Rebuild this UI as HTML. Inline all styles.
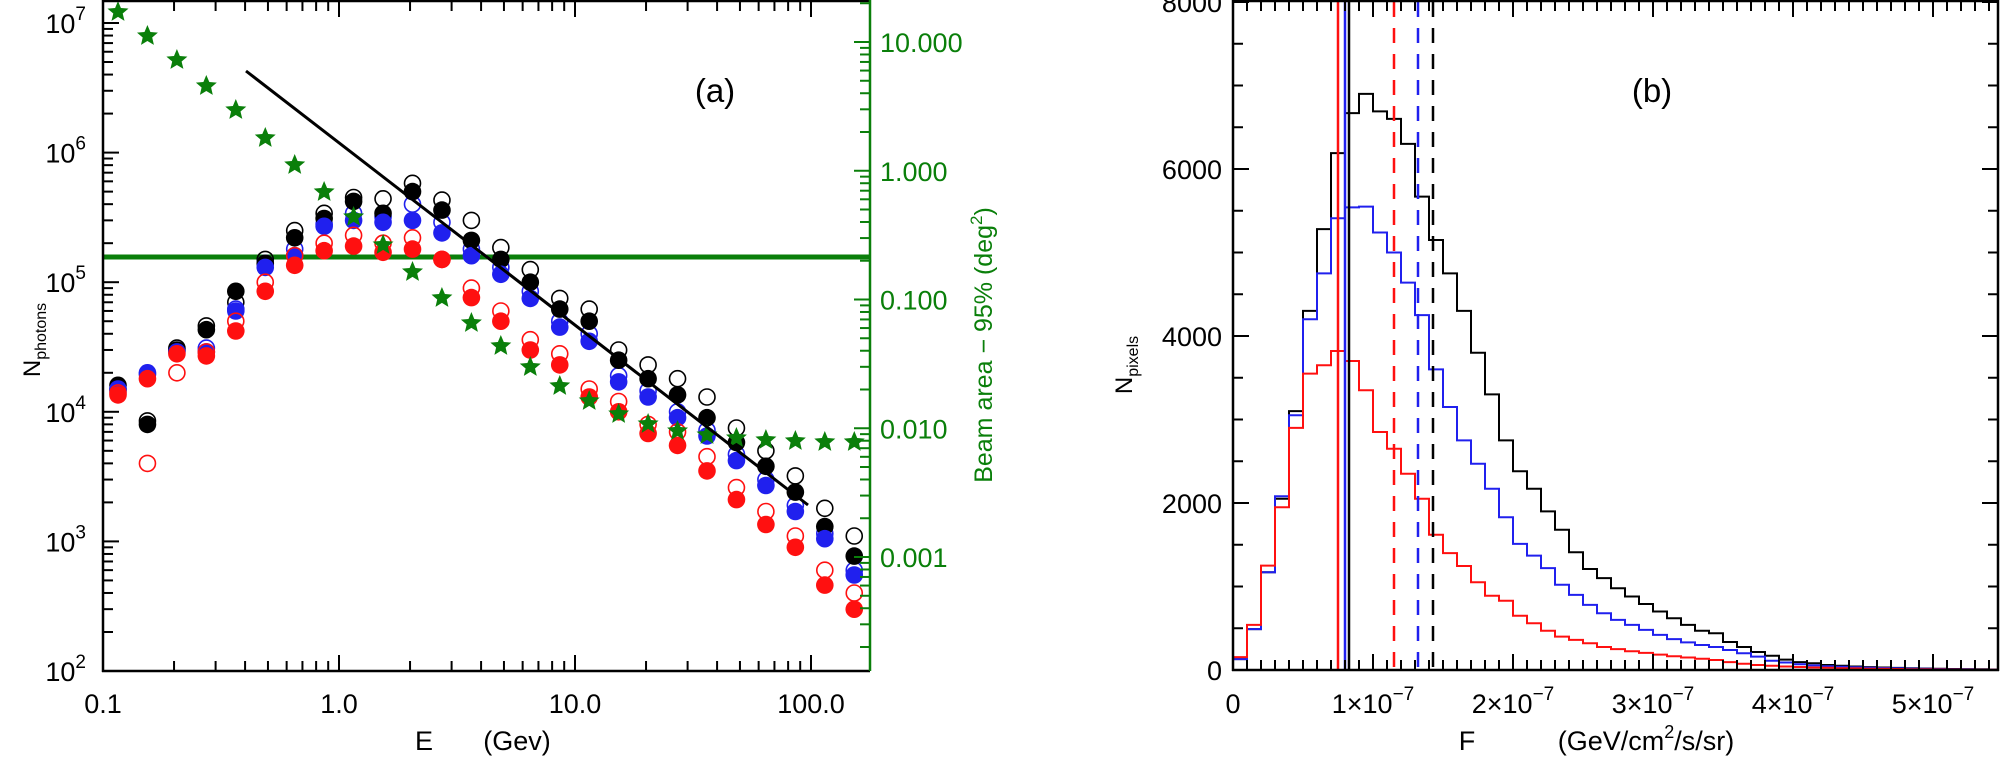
<!DOCTYPE html>
<html><head><meta charset="utf-8"><style>
body{margin:0;background:#fff;}
svg{display:block;font-family:"Liberation Sans",sans-serif;}
</style></head><body>
<svg id="s" width="2001" height="757" viewBox="0 0 2001 757" xmlns="http://www.w3.org/2000/svg"></svg>
<script>
const S=document.getElementById('s');let h='';
const G='#0a7f0a';
function L(x1,y1,x2,y2,c,w,extra){h+=`<line x1="${x1}" y1="${y1}" x2="${x2}" y2="${y2}" stroke="${c}" stroke-width="${w}" ${extra||''}/>`;}
function T(x,y,t,sz,anchor,col,extra){h+=`<text x="${x}" y="${y}" font-size="${sz}" text-anchor="${anchor||'middle'}" fill="${col||'#000'}" ${extra||''}>${t}</text>`;}
const X0=103,X1=870,Y0=0,Y1=671;
const xE=e=>103+236*(Math.log10(e)+1);
const yN=n=>23+129.6*(7-Math.log10(n));
const yA=a=>42+128.75*(1-Math.log10(a));
L(X0,257,X1,257,G,5);
function star(cx,cy,r){let p=[];for(let k=0;k<10;k++){const rr=k%2?r*0.45:r;const a=-Math.PI/2+k*Math.PI/5;p.push((cx+rr*Math.cos(a)).toFixed(1)+','+(cy+rr*Math.sin(a)).toFixed(1));}h+=`<polygon points="${p.join(' ')}" fill="${G}"/>`;}
const sy=[12,36,60,86,110,138,165,192,217,245,272,298,323,346,367,386,401,414,424,431,435,438,440,441,442,442];
const px=i=>118+29.45*i;
const D=[
[1.5e4,1.6e4,1.45e4,1.5e4,1.4e4,1.35e4],
[8.5e3,8e3,1.95e4,2e4,4e3,1.8e4],
[3.1e4,3e4,2.95e4,2.9e4,2e4,2.8e4],
[4.6e4,4.3e4,3.1e4,2.9e4,2.9e4,2.7e4],
[7e4,8.5e4,6.2e4,6e4,5e4,4.2e4],
[1.5e5,1.4e5,1.4e5,1.3e5,1.0e5,8.5e4],
[2.5e5,2.2e5,1.8e5,1.6e5,1.6e5,1.35e5],
[3.4e5,3.1e5,2.8e5,2.7e5,2.0e5,1.75e5],
[4.5e5,4.2e5,3.4e5,3.0e5,2.3e5,1.9e5],
[4.4e5,3.4e5,3.2e5,2.9e5,2.0e5,1.7e5],
[5.8e5,5e5,4e5,3.0e5,2.2e5,1.8e5],
[4.3e5,3.6e5,2.9e5,2.4e5,1.5e5,1.5e5],
[3e5,2.1e5,1.8e5,1.6e5,9e4,7.6e4],
[1.85e5,1.5e5,1.3e5,1.15e5,6e4,5e4],
[1.25e5,1.0e5,8.5e4,7.5e4,3.6e4,3.0e4],
[7.5e4,6.2e4,5e4,4.5e4,2.8e4,2.3e4],
[6.2e4,5e4,4e4,3.5e4,1.5e4,1.3e4],
[3e4,2.5e4,1.9e4,1.7e4,1.2e4,1.0e4],
[2.3e4,1.8e4,1.45e4,1.3e4,8e3,6.8e3],
[1.8e4,1.35e4,1.0e4,9e3,7e3,5.5e3],
[1.3e4,9e3,7.2e3,6.5e3,4.5e3,3.5e3],
[7.5e3,5.8e3,4.7e3,4.2e3,2.6e3,2.1e3],
[5e3,3.8e3,3e3,2.7e3,1.7e3,1.35e3],
[3.2e3,2.4e3,1.9e3,1.7e3,1.1e3,900],
[1.8e3,1.3e3,1.15e3,1.05e3,600,460],
[1.1e3,770,600,550,400,300]];
const cols=['#000','#000','#2020ee','#2020ee','#ff1010','#ff1010'];
D.forEach((d,i)=>{const x=px(i);
 [0,2,1,3,4,5].forEach(k=>{const y=yN(d[k]);if(k%2==0)h+=`<circle cx="${x}" cy="${y.toFixed(1)}" r="8" fill="none" stroke="${cols[k]}" stroke-width="1.6"/>`;else h+=`<circle cx="${x}" cy="${y.toFixed(1)}" r="8.8" fill="${cols[k]}"/>`;});
});
sy.forEach((y,i)=>star(px(i),y,11));
L(246,71,808,505,'#000',3);
L(X0,0,X0,Y1+1,'#000',2.5);L(X0-1,Y1,X1,Y1,'#000',2.5);L(X0,1,X1,1,'#000',2.5);
L(X1,0,X1,Y1,G,2.5);
for(let d=-1;d<=2;d++){for(let m=1;m<=9;m++){const e=m*Math.pow(10,d);const x=xE(e);if(x>X1)break;const len=m==1?16:10;L(x,Y1,x,Y1-len,'#000',2);L(x,1,x,1+len,'#000',2);}}
[['0.1',0.1],['1.0',1],['10.0',10],['100.0',100]].forEach(a=>T(xE(a[1]),713,a[0],27));
T(424,750,'E',27);T(517,750,'(Gev)',27);
for(let d=2;d<=7;d++){for(let m=1;m<=9;m++){const n=m*Math.pow(10,d);const y=yN(n);if(y<0)break;const len=m==1?16:10;L(X0,y,X0+len,y,'#000',2);}}
for(let d=2;d<=7;d++){const y=yN(Math.pow(10,d));T(86,y+10,'10<tspan font-size="19" dy="-13">'+d+'</tspan>',27,'end');}
h+=`<text transform="translate(40,340) rotate(-90)" font-size="24" text-anchor="middle">N<tspan font-size="16" dy="6">photons</tspan></text>`;
for(let d=-4;d<=1;d++){for(let m=1;m<=9;m++){const a=m*Math.pow(10,d);const y=yA(a);if(y<0||y>Y1)continue;const len=m==1?16:10;L(X1,y,X1-len,y,G,2);}}
[['10.000',10],['1.000',1],['0.100',0.1],['0.010',0.01],['0.001',0.001]].forEach(a=>T(880,yA(a[1])+10,a[0],27,'start',G));
h+=`<text transform="translate(992,345) rotate(-90)" font-size="25" text-anchor="middle" fill="${G}">Beam area  −  95%   (deg<tspan font-size="17" dy="-10">2</tspan><tspan dy="10">)</tspan></text>`;
T(715,102,'(a)',33);
const BX0=1233,BX1=1998,BY1=670;
const yc=c=>BY1-c*0.0835;
const blk=[130,490,1170,2050,3100,4300,5280,6190,6670,6900,6690,6600,6300,5670,5150,4750,4300,3800,3300,2750,2380,2170,1900,1680,1410,1210,1100,980,880,790,700,620,540,470,440,335,275,215,170,125,95,80,60,50,42,35,30,25,20,18,15,12,10,8,6];
const blu=[130,490,1170,2080,3050,4200,4750,5410,5540,5550,5240,5000,4640,4250,3600,3150,2750,2470,2170,1830,1510,1370,1220,1020,900,780,680,600,540,480,420,370,330,300,275,240,200,160,110,90,70,55,45,38,32,28,24,20,17,14,12,10,8,6,5];
const red=[155,540,1250,1950,2900,3550,3650,3820,3700,3350,2850,2650,2350,2050,1620,1400,1245,1050,890,830,650,560,470,400,360,320,275,250,225,205,185,165,150,135,120,95,75,60,50,42,36,30,26,22,19,16,14,12,10,8,7,6,5,4,3];
function hist(a,c){let p=`M${BX0},${BY1}`;a.forEach((v,i)=>{const x0=BX0+14*i,x1=Math.min(BX1,x0+14);const y=yc(v).toFixed(1);p+=` L${x0},${y} L${x1},${y}`;});h+=`<path d="${p}" fill="none" stroke="${c}" stroke-width="2"/>`;}
hist(blk,'#000');hist(blu,'#2020ee');hist(red,'#ff1010');
L(1349,0,1349,BY1,'#000',2.5);L(1345,0,1345,BY1,'#2020ee',2.5);L(1338,0,1338,BY1,'#ff1010',2.5);
L(1433,2,1433,BY1,'#000',2.5,'stroke-dasharray="15,11"');L(1418,2,1418,BY1,'#2020ee',2.5,'stroke-dasharray="15,11"');L(1394,2,1394,BY1,'#ff1010',2.5,'stroke-dasharray="15,11"');
L(BX0,0,BX0,BY1+1,'#000',2.5);L(BX1,0,BX1,BY1+1,'#000',2.5);L(BX0-1,BY1,BX1+1,BY1,'#000',2.5);L(BX0,1,BX1,1,'#000',2.5);
for(let k=0;k<=55;k++){const x=BX0+14*k;if(x>BX1)break;const len=k%10==0?16:10;L(x,BY1,x,BY1-len,'#000',2);L(x,1,x,1+len,'#000',2);}
for(let c=0;c<=8000;c+=500){const y=yc(c);const len=c%2000==0?16:10;L(BX0,y,BX0+len,y,'#000',2);L(BX1,y,BX1-len,y,'#000',2);}
for(let c=0;c<=8000;c+=2000)T(1222,yc(c)+10,String(c),27,'end');
T(1233,713,'0',27);
for(let k=1;k<=5;k++)T(BX0+140*k,713,k+'×10<tspan font-size="19" dy="-13">−7</tspan>',27);
T(1467,750,'F',27);
T(1646,750,'(GeV/cm<tspan font-size="18" dy="-12">2</tspan><tspan dy="12">/s/sr)</tspan>',27);
h+=`<text transform="translate(1132,365) rotate(-90)" font-size="24" text-anchor="middle">N<tspan font-size="16" dy="6">pixels</tspan></text>`;
T(1652,102,'(b)',33);
S.innerHTML=h;
</script>
</body></html>
